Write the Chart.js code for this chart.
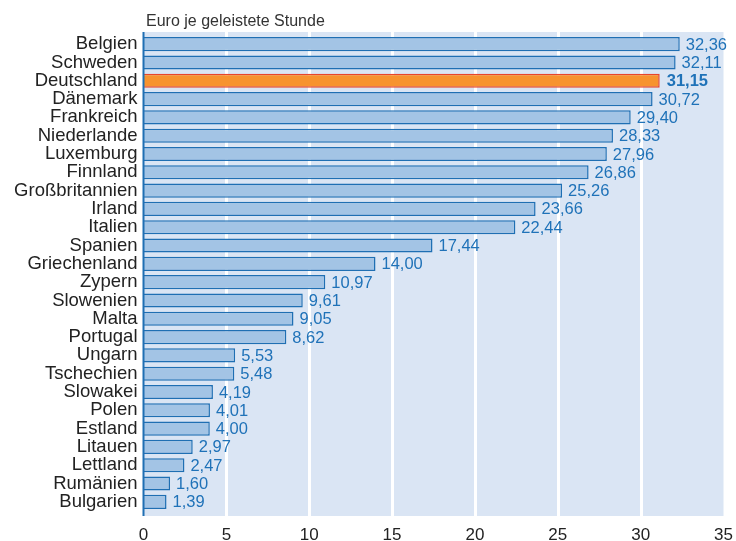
<!doctype html>
<html lang="de">
<head>
<meta charset="utf-8">
<title>Arbeitskosten je Stunde</title>
<script src="https://cdn.jsdelivr.net/npm/chart.js"></script>
<style>
  html, body { margin: 0; padding: 0; background: #fff; }
  #wrap { width: 736px; height: 541px; position: relative; }
</style>
</head>
<body>
<div id="wrap"><canvas id="costChart" width="736" height="541"></canvas></div>
<script>
  const countries = ["Belgien", "Schweden", "Deutschland", "Dänemark", "Frankreich", "Niederlande",
    "Luxemburg", "Finnland", "Großbritannien", "Irland", "Italien", "Spanien", "Griechenland",
    "Zypern", "Slowenien", "Malta", "Portugal", "Ungarn", "Tschechien", "Slowakei", "Polen",
    "Estland", "Litauen", "Lettland", "Rumänien", "Bulgarien"];
  const euroPerHour = [32.36, 32.11, 31.15, 30.72, 29.40, 28.33, 27.96, 26.86, 25.26, 23.66,
    22.44, 17.44, 14.00, 10.97, 9.61, 9.05, 8.62, 5.53, 5.48, 4.19, 4.01, 4.00, 2.97, 2.47,
    1.60, 1.39];
  const xTicks = [0, 5, 10, 15, 20, 25, 30, 35];
  const highlight = "Deutschland";
  const unitTitle = "Euro je geleistete Stunde";

  const FONT = "'Liberation Sans', Arial, sans-serif";
  const blueText = "#1f72b8";
  const axisBlue = "#1f6fb3";

  // light blue panel + white gridlines behind the bars (panel a bit taller than the bands)
  const panelBg = {
    id: "panelBg",
    beforeDatasetsDraw(chart) {
      const a = chart.chartArea, ctx = chart.ctx, xs = chart.scales.x;
      const top = a.top - 3, bottom = a.bottom + 5;
      ctx.save();
      ctx.fillStyle = "#dae5f4";
      ctx.fillRect(a.left, top, a.right - a.left, bottom - top);
      ctx.strokeStyle = "#ffffff";
      ctx.lineWidth = 3;
      xTicks.slice(1, -1).forEach(v => {
        const x = Math.round(xs.getPixelForValue(v)) + 0.5;
        ctx.beginPath();
        ctx.moveTo(x, top);
        ctx.lineTo(x, bottom);
        ctx.stroke();
      });
      ctx.restore();
    },
    afterDatasetsDraw(chart) {
      const a = chart.chartArea, ctx = chart.ctx;
      ctx.save();
      ctx.strokeStyle = axisBlue;
      ctx.lineWidth = 2;
      ctx.beginPath();
      ctx.moveTo(a.left, a.top - 3);
      ctx.lineTo(a.left, a.bottom + 5);
      ctx.stroke();
      ctx.restore();
    }
  };

  // value labels + title
  const valueLabels = {
    id: "valueLabels",
    afterDatasetsDraw(chart) {
      const ctx = chart.ctx;
      const meta = chart.getDatasetMeta(0);
      ctx.save();
      ctx.textBaseline = "middle";
      ctx.textAlign = "left";
      meta.data.forEach((bar, i) => {
        const isHi = countries[i] === highlight;
        ctx.font = (isHi ? "bold " : "") + "16.5px " + FONT;
        ctx.fillStyle = blueText;
        const txt = euroPerHour[i].toFixed(2).replace(".", ",");
        ctx.fillText(txt, bar.x + (isHi ? 7 : 6), bar.y + 1);
      });
      ctx.font = "16px " + FONT;
      ctx.fillStyle = "#333";
      ctx.fillText(unitTitle, chart.chartArea.left + 2.5, 22);
      ctx.restore();
    }
  };

  new Chart(document.getElementById("costChart"), {
    type: "bar",
    data: {
      labels: countries,
      datasets: [{
        data: euroPerHour,
        backgroundColor: countries.map(c => c === highlight ? "#f7932f" : "#a3c4e5"),
        borderColor: countries.map(c => c === highlight ? "#e8452c" : axisBlue),
        borderWidth: 1.5,
        borderSkipped: "left",
        barPercentage: 0.77,
        categoryPercentage: 1.0
      }]
    },
    options: {
      indexAxis: "y",
      responsive: false,
      animation: false,
      layout: { padding: { top: 35, right: 12.5, left: 0, bottom: 0 } },
      plugins: { legend: { display: false }, tooltip: { enabled: false } },
      scales: {
        x: {
          min: 0, max: 35,
          afterBuildTicks: s => { s.ticks = xTicks.map(v => ({ value: v })); },
          afterFit: s => { s.height = 30; s.paddingLeft = 0; s.paddingRight = 0; },
          grid: { display: false, drawTicks: false },
          border: { display: false },
          ticks: { color: "#222", font: { family: FONT, size: 17 }, padding: 14, maxRotation: 0 }
        },
        y: {
          afterFit: s => { s.width = 143.5; s.paddingTop = 0; s.paddingBottom = 0; },
          grid: { display: false, drawTicks: false },
          border: { display: false },
          ticks: { color: "#222", font: { family: FONT, size: 18.5 }, padding: 6, autoSkip: false }
        }
      }
    },
    plugins: [panelBg, valueLabels]
  });
</script>
</body>
</html>
